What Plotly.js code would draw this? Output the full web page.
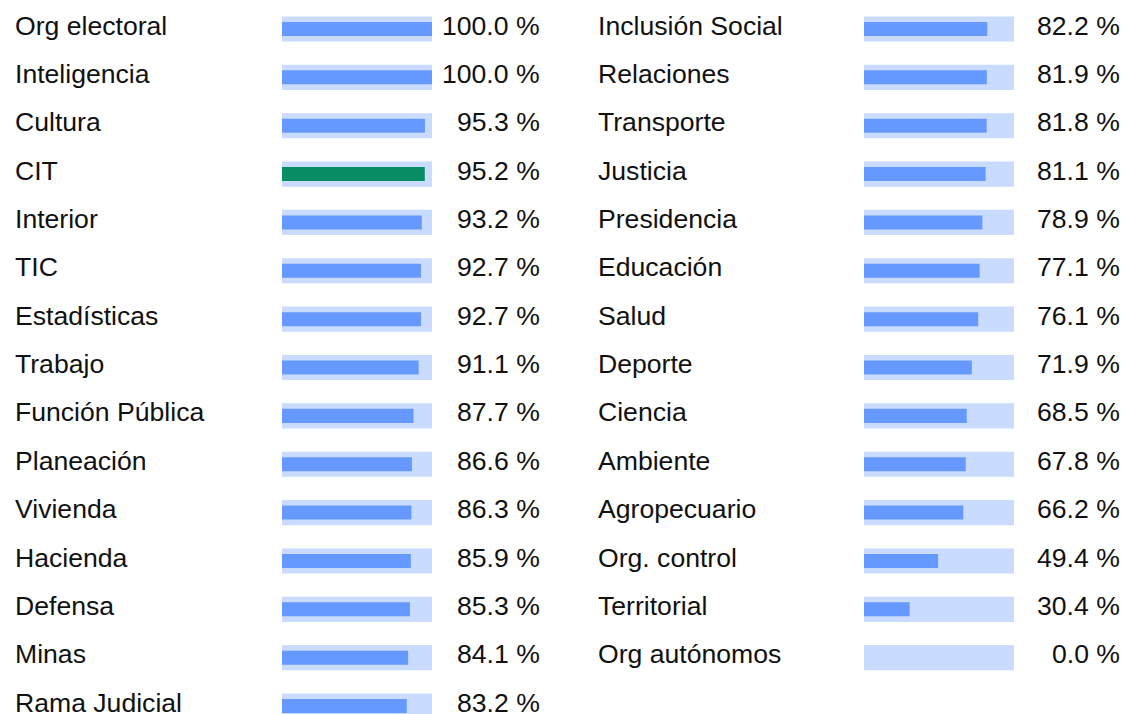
<!DOCTYPE html>
<html>
<head>
<meta charset="utf-8">
<script src="https://cdn.plot.ly/plotly-3.0.1.min.js"></script>
<style>
html,body{margin:0;padding:0;overflow:hidden;background:#fff;}
#chart{width:1127px;height:760px;}
</style>
</head>
<body>
<div id="chart"></div>
<script>
const leftLabels = ["Org electoral","Inteligencia","Cultura","CIT","Interior","TIC","Estadísticas","Trabajo","Función Pública","Planeación","Vivienda","Hacienda","Defensa","Minas","Rama Judicial"];
const leftValues = [100.0,100.0,95.3,95.2,93.2,92.7,92.7,91.1,87.7,86.6,86.3,85.9,85.3,84.1,83.2];
const rightLabels = ["Inclusión Social","Relaciones","Transporte","Justicia","Presidencia","Educación","Salud","Deporte","Ciencia","Ambiente","Agropecuario","Org. control","Territorial","Org autónomos"];
const rightValues = [82.2,81.9,81.8,81.1,78.9,77.1,76.1,71.9,68.5,67.8,66.2,49.4,30.4,0.0];
const highlight = "CIT";
const maxValue = 100;

const W = 1127, H = 760, pitch = 48.36, firstY = 29;
const blue = "#6699ff", light = "#c9dbff", green = "#078c63";
const font = {family: "'Liberation Sans', Arial, sans-serif", size: 26.6, color: "#111"};

function traces(labels, values, xa) {
  const ys = labels.map((_, i) => i);
  return [
    {type: "bar", orientation: "h", x: labels.map(() => maxValue), y: ys, width: 0.52,
     marker: {color: light}, xaxis: xa, yaxis: "y", hoverinfo: "skip"},
    {type: "bar", orientation: "h", x: values, y: ys, width: 0.29,
     marker: {color: labels.map(l => l === highlight ? green : blue)}, xaxis: xa, yaxis: "y",
     hoverinfo: "skip"}
  ];
}

const data = [...traces(leftLabels, leftValues, "x"), ...traces(rightLabels, rightValues, "x2")];

const ann = [];
function addAnn(labels, values, labelX, valueX) {
  labels.forEach((l, i) => {
    ann.push({xref: "paper", yref: "y", x: labelX / W, y: i - 0.07, text: l, showarrow: false,
      xanchor: "left", yanchor: "middle", font: font});
    ann.push({xref: "paper", yref: "y", x: valueX / W, y: i - 0.07, text: values[i].toFixed(1) + " %",
      showarrow: false, xanchor: "right", yanchor: "middle", font: font});
  });
}
addAnn(leftLabels, leftValues, 13, 542);
addAnn(rightLabels, rightValues, 596, 1122);

const layout = {
  width: W, height: H,
  margin: {l: 0, r: 0, t: 0, b: 0, pad: 0},
  paper_bgcolor: "#fff", plot_bgcolor: "rgba(0,0,0,0)",
  barmode: "overlay", showlegend: false,
  xaxis: {domain: [282 / W, 432 / W], range: [0, maxValue], visible: false, fixedrange: true},
  xaxis2: {domain: [864 / W, 1014 / W], range: [0, maxValue], visible: false, fixedrange: true},
  yaxis: {range: [(H - firstY) / pitch, -firstY / pitch], visible: false, fixedrange: true},
  annotations: ann
};

Plotly.newPlot("chart", data, layout, {displayModeBar: false, staticPlot: true});
</script>
</body>
</html>
